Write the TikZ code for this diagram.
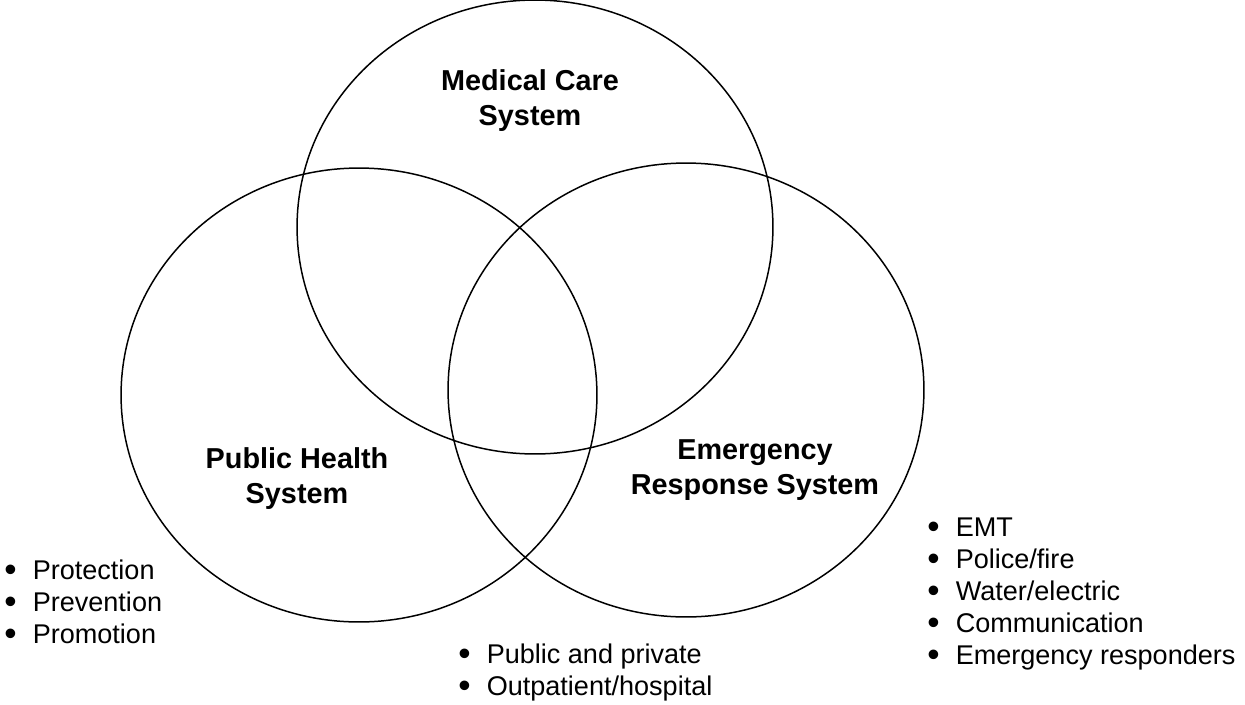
\documentclass[tikz,border=0pt]{standalone}
\usepackage{graphicx}
\usepackage{fontspec}
\setmainfont{Liberation Sans}
\usetikzlibrary{shapes.geometric}
\newcommand{\itm}[1]{\makebox[1.05em][l]{\raisebox{-0.08em}{\scalebox{1.3}{\textbullet}}}#1}

\begin{document}
\begin{tikzpicture}[x=0.02cm, y=-0.02cm,
  system/.style={ellipse, draw, line width=0.85pt, inner sep=0pt,
    minimum width=9.52cm, minimum height=9.08cm},
  title/.style={align=center, anchor=base, inner sep=0pt,
    font=\fontsize{16.4}{19.8}\selectfont\bfseries},
  items/.style={align=left, anchor=base west, inner sep=0pt,
    font=\fontsize{15.4}{18.1}\selectfont}]
\useasboundingbox (0,0) rectangle (1245,704);

% the three systems
\node[system] (med) at (535,227) {};
\node[system] (pub) at (359,395) {};
\node[system] (emr) at (686,390) {};

\node[title] (medlabel) at (530,125) {Medical Care\\System};
\node[title] (publabel) at (297,503) {Public Health\\System};
\node[title] (emrlabel) at (755,494) {Emergency\\Response System};

% what each one covers
\node[items] (publist) at (4,643) {\itm{Protection}\\\itm{Prevention}\\\itm{Promotion}};
\node[items] (medlist) at (458,695) {\itm{Public and private}\\\itm{Outpatient/hospital}};
\node[items] (emrlist) at (927,664) {\itm{EMT}\\\itm{Police/fire}\\\itm{Water/electric}\\\itm{Communication}\\\itm{Emergency responders}};
\end{tikzpicture}
\end{document}
